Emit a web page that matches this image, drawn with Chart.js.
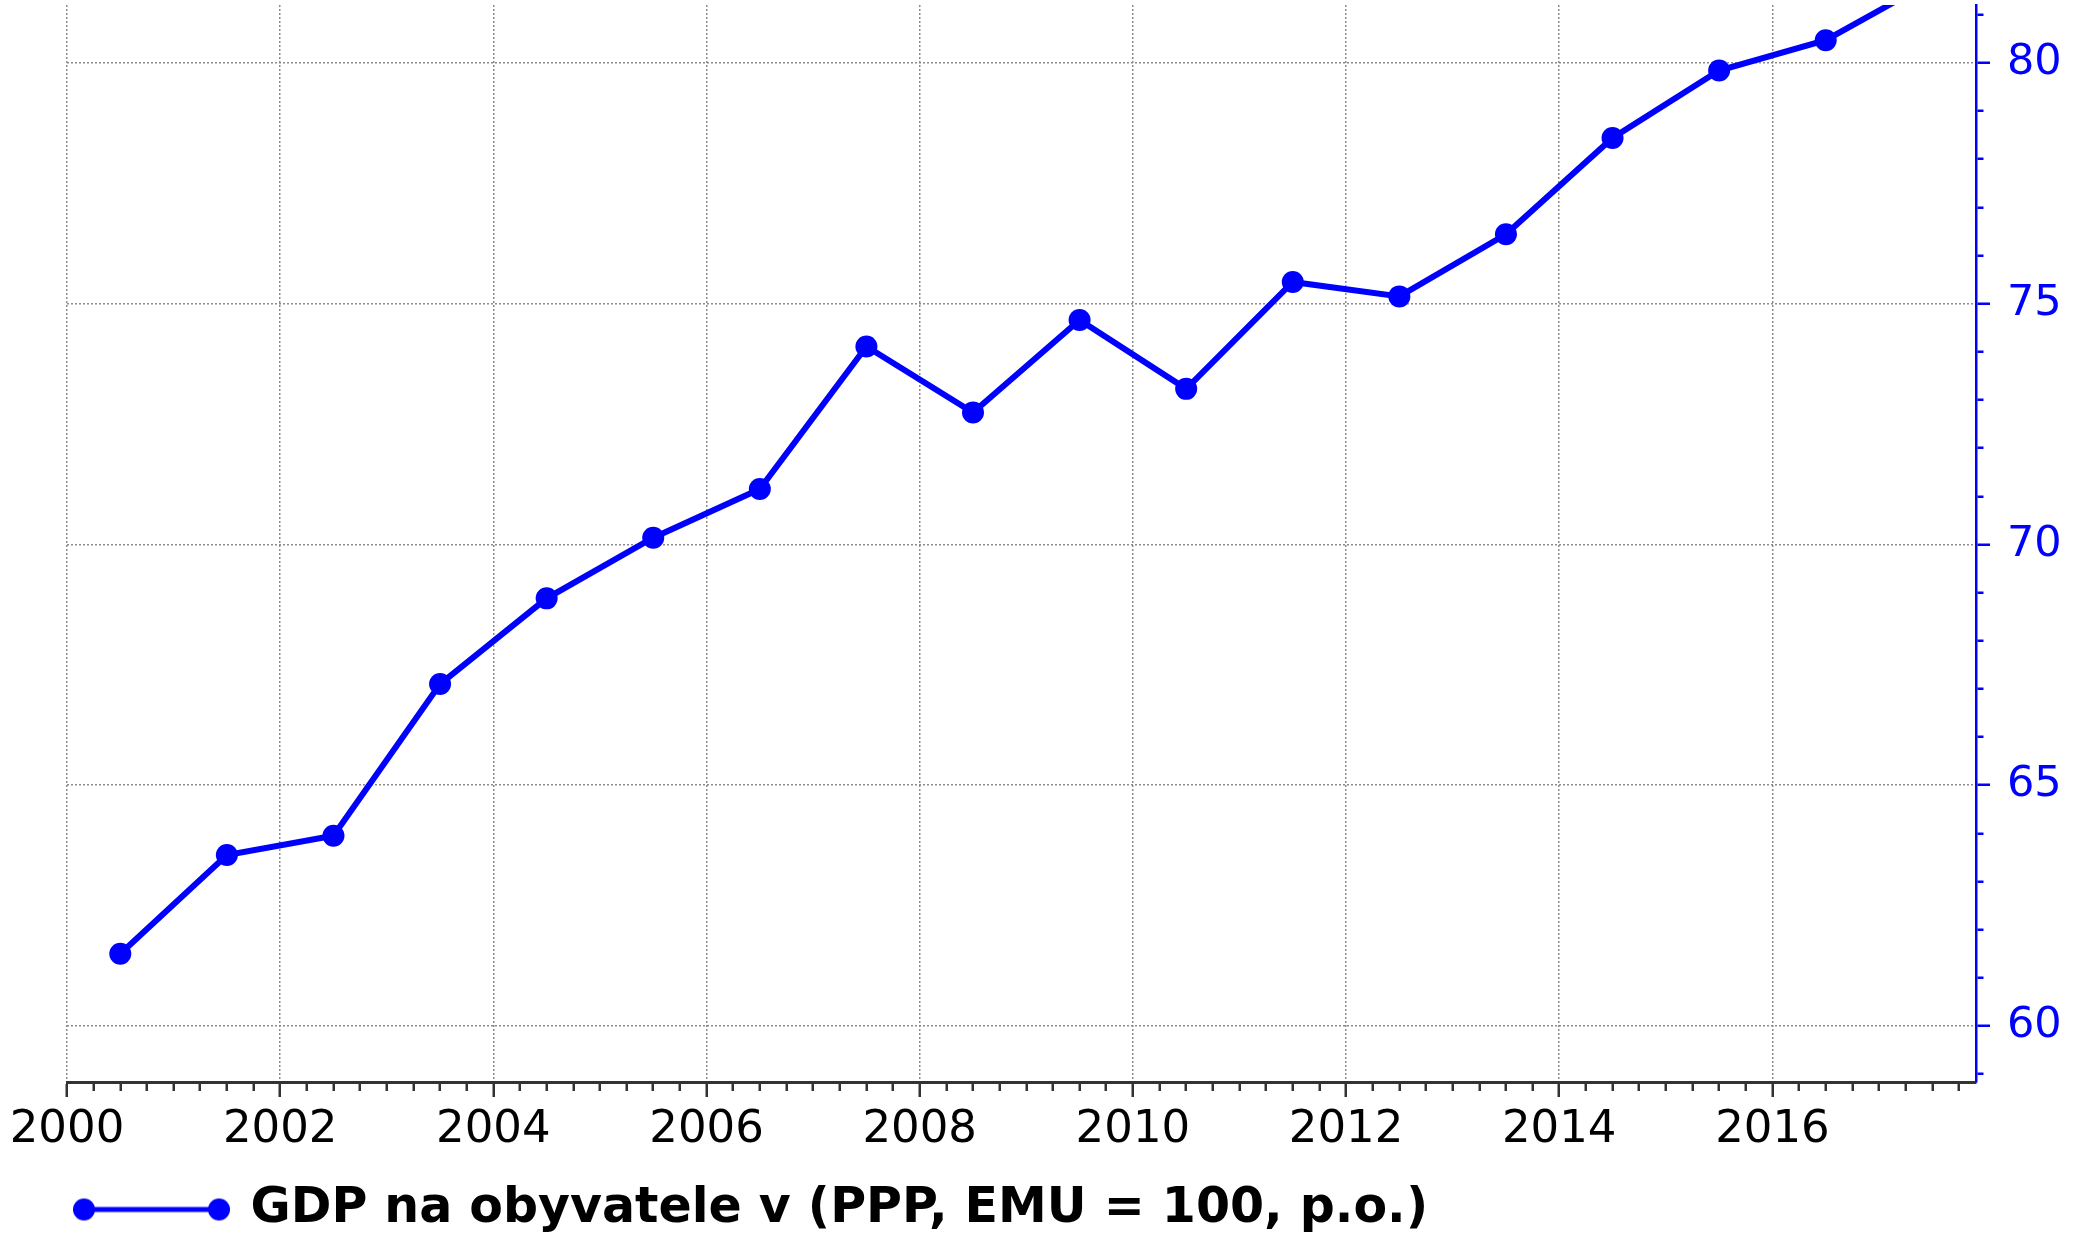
<!DOCTYPE html>
<html>
<head>
<meta charset="utf-8">
<title>GDP na obyvatele</title>
<script src="https://cdn.jsdelivr.net/npm/chart.js@4/dist/chart.umd.min.js"></script>
<style>
    html, body { margin: 0; padding: 0; background: #fff; }
    #wrap { width: 2073px; height: 1233px; }
</style>
</head>
<body>
<div id="wrap"><canvas id="gdp-chart"></canvas></div>
<script>
// 
// Chart data:
// 
var years = [2000, 2001, 2002, 2003, 2004, 2005, 2006, 2007, 2008,
    2009, 2010, 2011, 2012, 2013, 2014, 2015, 2016, 2017];
var gdpPerCapita = [61.5, 63.55, 63.95, 67.1, 68.88, 70.14, 71.15, 74.11, 72.74,
    74.66, 73.23, 75.45, 75.15, 76.44, 78.44, 79.84, 80.47, 81.7];
var xTickLabels = [2000, 2002, 2004, 2006, 2008, 2010, 2012, 2014, 2016];
var yTickLabels = [60, 65, 70, 75, 80];
var seriesLabel = 'GDP na obyvatele v (PPP, EMU = 100, p.o.)';

var blue = '#0000ff';
var fontFamily = '"DejaVu Sans", Verdana, sans-serif';

// 
// Legend marker: a line with a dot on each end (transparent strip on the
// left so that it lines up under the axis start).
// 
function createMarker() {
    var c = document.createElement('canvas');
    c.width = 167;
    c.height = 24;
    var ctx = c.getContext('2d');
    ctx.strokeStyle = blue;
    ctx.fillStyle = blue;
    ctx.lineWidth = 5;
    ctx.beginPath();
    ctx.moveTo(21, 12);
    ctx.lineTo(156, 12);
    ctx.stroke();
    [21, 156].forEach(function (x) {
        ctx.beginPath();
        ctx.arc(x, 12, 11, 0, Math.PI * 2);
        ctx.fill();
    });
    return c;
}

// Yearly values sit in the middle of the year.
var points = years.map(function (y, i) {
    return {x: y + 0.5, y: gdpPerCapita[i]};
});

var marker = createMarker();

new Chart(document.getElementById('gdp-chart'), {
    type: 'line',
    data: {
        datasets: [{
            label: seriesLabel,
            data: points,
            borderColor: blue,
            backgroundColor: blue,
            borderWidth: 6,
            pointRadius: 11,
            pointBorderWidth: 0,
            pointBackgroundColor: blue,
            tension: 0,
            clip: 0
        }]
    },
    options: {
        responsive: true,
        maintainAspectRatio: false,
        animation: false,
        layout: {
            autoPadding: false,
            padding: {left: 67, right: 0, top: 5, bottom: -11}
        },
        plugins: {
            tooltip: {enabled: false},
            legend: {
                position: 'bottom',
                align: 'start',
                labels: {
                    usePointStyle: true,
                    pointStyleWidth: 159,
                    padding: 0,
                    color: '#000',
                    font: {family: fontFamily, size: 49, weight: 'bold'},
                    generateLabels: function () {
                        return [{
                            text: seriesLabel,
                            pointStyle: marker,
                            fillStyle: blue,
                            strokeStyle: blue,
                            lineWidth: 0,
                            hidden: false,
                            datasetIndex: 0
                        }];
                    }
                }
            }
        },
        scales: {
            x: {
                type: 'linear',
                position: 'bottom',
                min: 2000,
                max: 2017.91,
                afterFit: function (scale) {
                    scale.height = 103;
                },
                border: {display: true, color: '#333', width: 3, dash: [2, 2]},
                grid: {
                    color: function (ctx) {
                        return xTickLabels.indexOf(ctx.tick.value) >= 0 ? '#8c8c8c' : 'rgba(0,0,0,0)';
                    },
                    lineWidth: 1.5,
                    tickLength: 15,
                    tickColor: '#333',
                    tickWidth: 2.5,
                    tickBorderDash: function (ctx) {
                        return xTickLabels.indexOf(ctx.tick.value) >= 0 ? [] : [7, 100];
                    }
                },
                ticks: {
                    stepSize: 0.25,
                    autoSkip: false,
                    includeBounds: false,
                    maxRotation: 0,
                    padding: 6,
                    color: '#000',
                    font: {family: fontFamily, size: 45},
                    callback: function (v) {
                        return xTickLabels.indexOf(v) >= 0 ? String(v) : '';
                    }
                }
            },
            y: {
                type: 'linear',
                position: 'right',
                min: 58.838,
                max: 81.2,
                afterFit: function (scale) {
                    scale.width = 97;
                    scale.paddingTop = 0;
                    scale.paddingBottom = 0;
                },
                border: {display: true, color: blue, width: 2.5, dash: [2, 2]},
                grid: {
                    color: function (ctx) {
                        return yTickLabels.indexOf(ctx.tick.value) >= 0 ? '#8c8c8c' : 'rgba(0,0,0,0)';
                    },
                    lineWidth: 1.5,
                    tickLength: 14,
                    tickColor: blue,
                    tickWidth: 2.5,
                    tickBorderDash: function (ctx) {
                        return yTickLabels.indexOf(ctx.tick.value) >= 0 ? [] : [6, 100];
                    }
                },
                ticks: {
                    stepSize: 1,
                    autoSkip: false,
                    includeBounds: false,
                    padding: 17,
                    color: blue,
                    font: {family: fontFamily, size: 43},
                    callback: function (v) {
                        return yTickLabels.indexOf(v) >= 0 ? String(v) : '';
                    }
                }
            }
        }
    }
});
</script>
</body>
</html>
